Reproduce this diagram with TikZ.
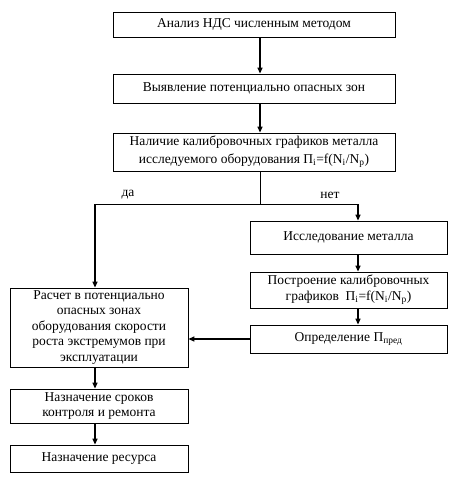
\documentclass[tikz,border=0pt]{standalone}
\usepackage{fontspec}
\setmainfont{Liberation Serif}
\usetikzlibrary{arrows.meta}
\newcommand{\sbs}[1]{\textsubscript{#1}}
\tikzset{
  box/.style={draw, line width=0.8pt, inner sep=0pt, align=center, font=\fontsize{13.5}{15.5}\selectfont},
  arr/.style={line width=1.4pt, -{Triangle[length=6pt,width=5pt]}},
  ln/.style={line width=0.8pt},
  lbl/.style={font=\fontsize{13.5}{15.5}\selectfont}
}
\begin{document}
\begin{tikzpicture}[x=1pt,y=-1pt]
\useasboundingbox (0,0) rectangle (450,486);
\node[box, minimum width=282, minimum height=25] (b1) at (254,24.5) {Анализ НДС численным методом};
\node[box, minimum width=282, minimum height=29] (b2) at (254,88.5) {Выявление потенциально опасных зон};
\node[box, minimum width=282, minimum height=38, font=\fontsize{13.5}{17.5}\selectfont] (b3) at (254,152) {Наличие калибровочных графиков металла\\исследуемого оборудования П\sbs{i}=f(N\sbs{i}/N\sbs{p})};
\node[box, minimum width=197, minimum height=33] (r1) at (348.5,237.5) {Исследование металла};
\node[box, minimum width=197, minimum height=36] (r2) at (348.5,290) {Построение калибровочных\\графиков\ \ П\sbs{i}=f(N\sbs{i}/N\sbs{p})};
\node[box, minimum width=197, minimum height=28] (r3) at (348.5,339) {Определение П\sbs{пред}};
\node[box, minimum width=178, minimum height=79] (l1) at (99,327.5) {Расчет в потенциально\\опасных зонах\\оборудования скорости\\роста экстремумов при\\эксплуатации};
\node[box, minimum width=178, minimum height=34] (l2) at (99,406) {Назначение сроков\\контроля и ремонта};
\node[box, minimum width=178, minimum height=27] (l3) at (99,458.5) {Назначение ресурса};
\coordinate (s) at (260,204);
\coordinate (sl) at (95,204);
\coordinate (sr) at (358,204);
\draw[arr] (b1.south -| s) -- (b2.north -| s);
\draw[arr] (b2.south -| s) -- (b3.north -| s);
\draw[ln] (b3.south -| s) -- (s);
\draw[ln] (sl) -- (sr);
\draw[arr] (sl) -- (l1.north -| sl);
\draw[arr] (sr) -- (r1.north -| sr);
\draw[arr] (r1.south -| sr) -- (r2.north -| sr);
\draw[arr] (r2.south -| sr) -- (r3.north -| sr);
\draw[arr] (r3.west) -- (l1.east |- r3.west);
\draw[arr] (l1.south -| sl) -- (l2.north -| sl);
\draw[arr] (l2.south -| sl) -- (l3.north -| sl);
\node[lbl] (da) at (128,195) {да};
\node[lbl] (net) at (330,195) {нет};
\end{tikzpicture}
\end{document}
